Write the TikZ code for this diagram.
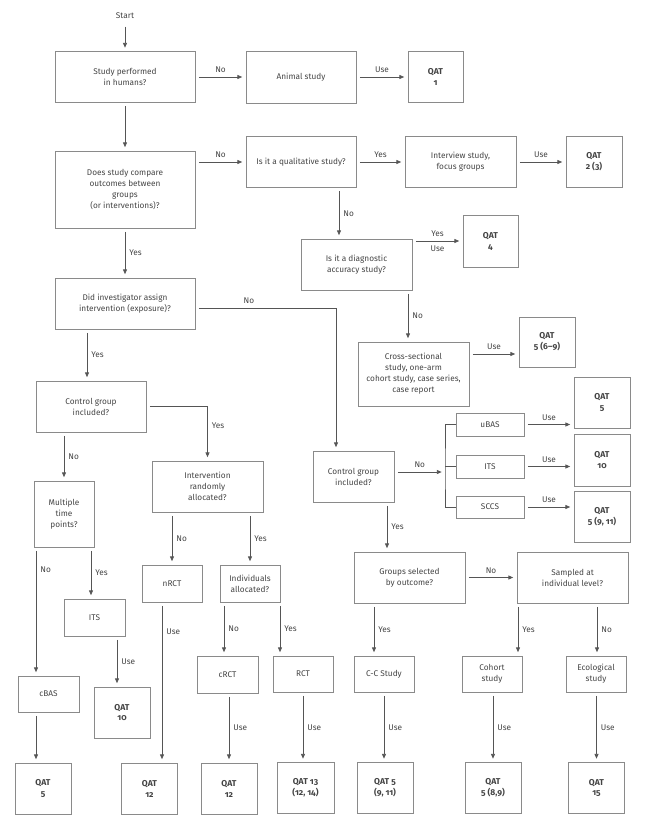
\documentclass[tikz,border=0pt]{standalone}
\usepackage{fontspec}
\setmainfont{Fira Sans}[Numbers=OldStyle]
\usetikzlibrary{arrows.meta}
\definecolor{linegray}{HTML}{555555}
\definecolor{boxgray}{HTML}{8A8A8A}
\definecolor{txtgray}{HTML}{444444}
\tikzset{
  box/.style={draw=boxgray, line width=0.7pt, align=center, inner sep=1pt, text=txtgray, font=\fontsize{6.2}{8.2}\selectfont},
  qat/.style={box, font=\fontsize{6.4}{8.2}\selectfont\bfseries},
  sz/.style 2 args={minimum width=#1*0.75pt, minimum height=#2*0.75pt},
  flow/.style={draw=linegray, line width=0.6pt, -{Triangle[length=3.6pt,width=3pt]}, shorten <=2.5pt, shorten >=2.5pt},
  link/.style={draw=linegray, line width=0.6pt},
  lbl/.style={text=txtgray, font=\fontsize{6.2}{8.2}\selectfont, inner sep=3pt},
}
\begin{document}
\begin{tikzpicture}[x=0.75pt, y=-0.75pt]
    \useasboundingbox (0,0) rectangle (650,824);
    % top row
    \node[lbl] (start) at (125,16) {Start};
    \node[box, sz={140}{51}] (hum) at (125,77) {Study performed\\in humans?};
    \node[box, sz={110}{52}] (animal) at (301,77) {Animal study};
    \node[qat, sz={55}{51}] (qat1) at (435.5,77) {QAT\\1};

    % qualitative / diagnostic branch
    \node[box, sz={140}{77}] (comp) at (125,189.5) {Does study compare\\outcomes between\\groups\\(or interventions)?};
    \node[box, sz={110}{51}] (qual) at (301,162) {Is it a qualitative study?};
    \node[box, sz={111}{51}] (interv) at (460.5,162) {Interview study,\\focus groups};
    \node[qat, sz={56}{51}] (qat2) at (594,162) {QAT\\2 (3)};
    \node[box, sz={111}{51}] (diag) at (356.5,264.5) {Is it a diagnostic\\accuracy study?};
    \node[qat, sz={55}{52}] (qat4) at (490.5,241) {QAT\\4};
    \node[box, sz={111}{64}] (cross) at (413.5,374) {Cross-sectional\\study, one-arm\\cohort study, case series,\\case report};
    \node[qat, sz={56}{50}] (qat5a) at (547,342) {QAT\\5 (6--9)};

    % left column
    \node[box, sz={140}{51}] (assign) at (125,303.5) {Did investigator assign\\intervention (exposure)?};
    \node[box, sz={110}{51}] (ctrl) at (91,406.5) {Control group\\included?};
    \node[box, sz={60}{66}] (multi) at (64,514) {Multiple\\time\\points?};
    \node[box, sz={111}{51}] (rand) at (207.5,486.5) {Intervention\\randomly\\allocated?};
    \node[box, sz={60}{37}] (nrct) at (172,583.5) {nRCT};
    \node[box, sz={60}{37}] (indiv) at (250,583.5) {Individuals\\allocated?};
    \node[box, sz={61}{37}] (its) at (94.5,617.5) {ITS};
    \node[box, sz={61}{36}] (cbas) at (48.5,694) {cBAS};
    \node[qat, sz={56}{51}] (qat10a) at (122,712.5) {QAT\\10};
    \node[box, sz={61}{37}] (crct) at (227.5,674.5) {cRCT};
    \node[box, sz={60}{36}] (rct) at (303,674) {RCT};

    % middle / right
    \node[box, sz={81}{51}] (ctrlb) at (353.5,476.5) {Control group\\included?};
    \node[box, sz={68}{23}] (ubas) at (490,424.5) {uBAS};
    \node[box, sz={68}{23}] (itsb) at (490,466.5) {ITS};
    \node[box, sz={68}{22}] (sccs) at (490,507) {SCCS};
    \node[qat, sz={56}{51}] (qat5b) at (602,402.5) {QAT\\5};
    \node[qat, sz={56}{52}] (qat10b) at (602,460) {QAT\\10};
    \node[qat, sz={56}{51}] (qat5c) at (602,516.5) {QAT\\5 (9, 11)};
    \node[box, sz={111}{51}] (groups) at (409.5,577.5) {Groups selected\\by outcome?};
    \node[box, sz={111}{51}] (sampled) at (572.5,577.5) {Sampled at\\individual level?};
    \node[box, sz={60}{36}] (cc) at (384,674) {C-C Study};
    \node[box, sz={60}{36}] (cohort) at (492,674) {Cohort\\study};
    \node[box, sz={60}{36}] (eco) at (596,674) {Ecological\\study};

    % bottom row
    \node[qat, sz={56}{51}] (qat5d) at (43,788.5) {QAT\\5};
    \node[qat, sz={56}{51}] (qat12a) at (149.5,788.5) {QAT\\12};
    \node[qat, sz={56}{51}] (qat12b) at (229,788.5) {QAT\\12};
    \node[qat, sz={57}{51}] (qat13) at (305.5,788) {QAT 13\\(12, 14)};
    \node[qat, sz={56}{51}] (qat5e) at (385,788) {QAT 5\\(9, 11)};
    \node[qat, sz={56}{51}] (qat5f) at (493,788) {QAT\\5 (8,9)};
    \node[qat, sz={56}{51}] (qat15) at (596.5,788) {QAT\\15};

    % where the lines run
    \coordinate (xq) at (339,0);
    \coordinate (xd) at (408,0);
    \coordinate (yc) at (0,354);
    \coordinate (na) at (336,308);
    \coordinate (xa) at (87,0);
    \coordinate (xm) at (36,0);
    \coordinate (xi) at (91,0);
    \coordinate (xt) at (117,0);
    \coordinate (xn) at (162,0);
    \coordinate (xr1) at (224,0);
    \coordinate (xr2) at (280,0);
    \coordinate (xg) at (387,0);
    \coordinate (xcc) at (374,0);
    \coordinate (xco) at (518,0);
    \coordinate (xe) at (597,0);
    \coordinate (br) at (445,472);

    \draw[flow] (start) -- (hum);
    \draw[flow] (hum) -- (animal) node[lbl,midway,above] {No};
    \draw[flow] (animal) -- (qat1) node[lbl,midway,above] {Use};
    \draw[flow] (hum) -- (comp);
    \draw[flow] (comp.east |- qual) -- (qual) node[lbl,midway,above] {No};
    \draw[flow] (qual) -- (interv) node[lbl,midway,above] {Yes};
    \draw[flow] (interv) -- (qat2) node[lbl,midway,above] {Use};
    \draw[flow] (qual.south -| xq) -- (diag.north -| xq) node[lbl,midway,right] {No};
    \draw[flow] (diag.east |- qat4) -- (qat4) node[lbl,midway,above] {Yes} node[lbl,midway,below] {Use};
    \draw[flow] (diag.south -| xd) -- (cross.north -| xd) node[lbl,midway,right] {No};
    \draw[flow] (cross.east |- yc) -- (qat5a.west |- yc) node[lbl,midway,above] {Use};

    \draw[flow] (comp) -- (assign) node[lbl,midway,right] {Yes};
    \draw[flow] (assign.east |- na) -| (ctrlb.north -| na) node[lbl,pos=0.19,above] {No};
    \draw[flow] (assign.south -| xa) -- (ctrl.north -| xa) node[lbl,midway,right] {Yes};
    \draw[flow] (ctrl.east) -| (rand.north) node[lbl,pos=0.68,right] {Yes};
    \draw[flow] (ctrl.south -| multi) -- (multi) node[lbl,midway,right] {No};
    \draw[flow] (multi.south -| xm) -- (cbas.north -| xm) node[lbl,pos=0.17,right] {No};
    \draw[flow] (multi.south -| xi) -- (its.north -| xi) node[lbl,midway,right] {Yes};
    \draw[flow] (its.south -| xt) -- (qat10a.north -| xt) node[lbl,midway,right] {Use};
    \draw[flow] (cbas.south -| xm) -- (qat5d.north -| xm);
    \draw[flow] (rand.south -| nrct) -- (nrct) node[lbl,midway,right] {No};
    \draw[flow] (rand.south -| indiv) -- (indiv) node[lbl,midway,right] {Yes};
    \draw[flow] (nrct.south -| xn) -- (qat12a.north -| xn) node[lbl,pos=0.18,right] {Use};
    \draw[flow] (indiv.south -| xr1) -- (crct.north -| xr1) node[lbl,midway,right] {No};
    \draw[flow] (indiv.south -| xr2) -- (rct.north -| xr2) node[lbl,midway,right] {Yes};
    \draw[flow] (crct.south -| qat12b) -- (qat12b) node[lbl,midway,right] {Use};
    \draw[flow] (rct.south) -- (qat13.north -| rct) node[lbl,midway,right] {Use};

    \draw[flow] (ctrlb.east |- br) -- (br) node[lbl,midway,above] {No};
    \draw[link] (ubas.west) -| (br) |- (sccs.west);
    \draw[link] (itsb.west) -- (itsb.west -| br);
    \draw[flow] (ubas) -- (qat5b.west |- ubas) node[lbl,midway,above] {Use};
    \draw[flow] (itsb) -- (qat10b.west |- itsb) node[lbl,midway,above] {Use};
    \draw[flow] (sccs) -- (qat5c.west |- sccs) node[lbl,midway,above] {Use};
    \draw[flow] (ctrlb.south -| xg) -- (groups.north -| xg) node[lbl,midway,right] {Yes};
    \draw[flow] (groups) -- (sampled) node[lbl,midway,above] {No};
    \draw[flow] (groups.south -| xcc) -- (cc.north -| xcc) node[lbl,midway,right] {Yes};
    \draw[flow] (sampled.south -| xco) -- (cohort.north -| xco) node[lbl,midway,right] {Yes};
    \draw[flow] (sampled.south -| xe) -- (eco.north -| xe) node[lbl,midway,right] {No};
    \draw[flow] (cc.south) -- (qat5e.north -| cc) node[lbl,midway,right] {Use};
    \draw[flow] (cohort.south -| qat5f) -- (qat5f) node[lbl,midway,right] {Use};
    \draw[flow] (eco.south -| qat15) -- (qat15) node[lbl,midway,right] {Use};
\end{tikzpicture}
\end{document}
